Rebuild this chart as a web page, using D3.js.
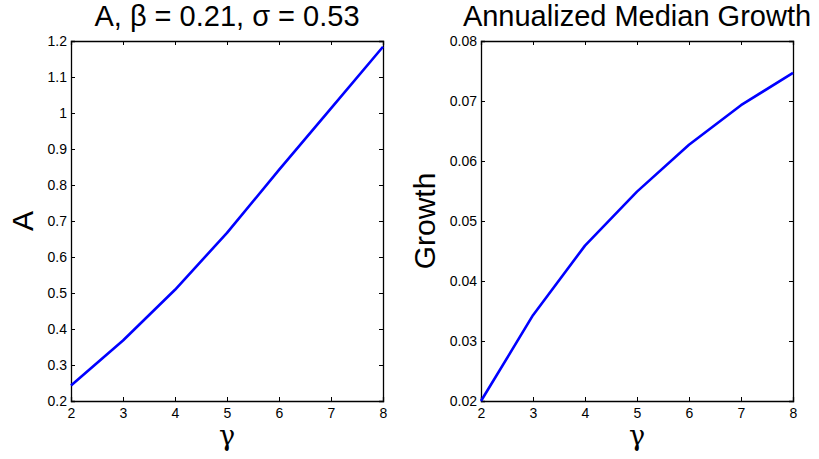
<!DOCTYPE html>
<html><head><meta charset="utf-8">
<script src="https://cdn.jsdelivr.net/npm/d3@7"></script>
<style>
body{margin:0;background:#fff;}
svg{display:block;font-family:"Liberation Sans",Arial,Helvetica,sans-serif;}
</style></head>
<body><svg id="c" width="819" height="459"></svg>
<script>
const gamma = [2, 3, 4, 5, 6, 7, 8];
const valuesA = [0.243, 0.368, 0.509, 0.667, 0.842, 1.013, 1.184];
const valuesGrowth = [0.0200, 0.0343, 0.0459, 0.0549, 0.0627, 0.0693, 0.0747];
const xTicks = [2, 3, 4, 5, 6, 7, 8];
const yTicksA = [0.2, 0.3, 0.4, 0.5, 0.6, 0.7, 0.8, 0.9, 1.0, 1.1, 1.2];
const yTicksGrowth = [0.02, 0.03, 0.04, 0.05, 0.06, 0.07, 0.08];

const svg = d3.select("#c");

function panel(opt){
  const {x0, x1, y0, y1, data, yDomain, yTicks, yFmt, title, ylabel, ylabelX} = opt;
  const x = d3.scaleLinear().domain([2, 8]).range([x0, x1]);
  const y = d3.scaleLinear().domain(yDomain).range([y1, y0]);
  const g = svg.append("g");
  const tl = 4;
  const bx = g.append("g").attr("transform", `translate(0,${y1})`)
    .call(d3.axisBottom(x).tickValues(xTicks).tickFormat(d3.format("d")).tickSize(-tl).tickPadding(7));
  const tx = g.append("g").attr("transform", `translate(0,${y0})`)
    .call(d3.axisTop(x).tickValues(xTicks).tickFormat("").tickSize(-tl));
  const ly = g.append("g").attr("transform", `translate(${x0},0)`)
    .call(d3.axisLeft(y).tickValues(yTicks).tickFormat(yFmt).tickSize(-tl).tickPadding(4));
  const ry = g.append("g").attr("transform", `translate(${x1},0)`)
    .call(d3.axisRight(y).tickValues(yTicks).tickFormat("").tickSize(-tl));
  [bx, tx, ly, ry].forEach(a => {
    a.select(".domain").attr("stroke", "#000").attr("stroke-width", 1.3);
    a.selectAll(".tick line").attr("stroke", "#000").attr("stroke-width", 1);
    a.selectAll("text").attr("fill", "#000").style("font-size", "14px")
      .style("font-family", "Liberation Sans, Arial, sans-serif");
  });
  const line = d3.line().x((d, i) => x(gamma[i])).y(d => y(d));
  g.append("path").datum(data).attr("d", line)
    .attr("fill", "none").attr("stroke", "#0000ff").attr("stroke-width", 2.6)
    .attr("stroke-linejoin", "round");
  g.append("text").attr("x", (x0 + x1) / 2).attr("y", 26).attr("text-anchor", "middle")
    .style("font-size", "29px").text(title);
  g.append("text").attr("x", (x0 + x1) / 2).attr("y", 445).attr("text-anchor", "middle")
    .style("font-size", "27px").style("font-family", "DejaVu Serif, serif").text("γ");
  g.append("text").attr("transform", `translate(${ylabelX},${(y0 + y1) / 2}) rotate(-90)`)
    .attr("text-anchor", "middle").style("font-size", "30px").text(ylabel);
}

panel({x0: 71, x1: 383, y0: 41, y1: 401, data: valuesA, yDomain: [0.2, 1.2],
  yTicks: yTicksA, yFmt: d => d3.format("")(+d.toFixed(1)), title: "A, β = 0.21, σ = 0.53",
  ylabel: "A", ylabelX: 33});
panel({x0: 481, x1: 793, y0: 41, y1: 401, data: valuesGrowth, yDomain: [0.02, 0.08],
  yTicks: yTicksGrowth, yFmt: d => d.toFixed(2), title: "Annualized Median Growth",
  ylabel: "Growth", ylabelX: 435});
</script></body></html>
